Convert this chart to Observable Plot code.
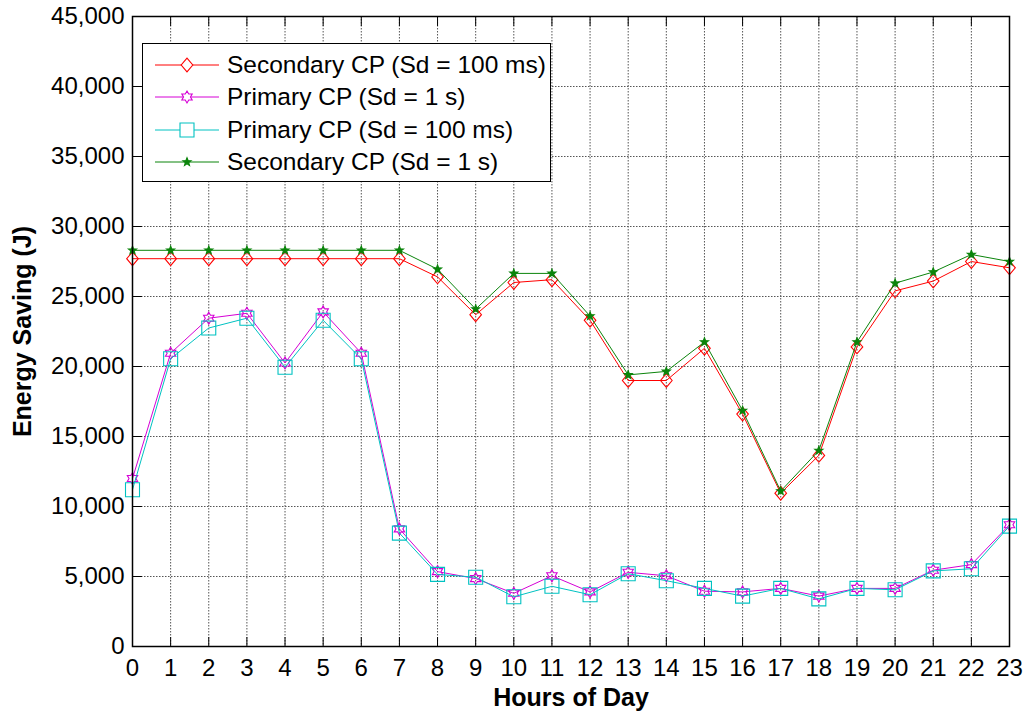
<!DOCTYPE html>
<html>
<head>
<meta charset="utf-8">
<script src="https://cdn.jsdelivr.net/npm/d3@7"></script>
<script src="https://cdn.jsdelivr.net/npm/@observablehq/plot@0.6"></script>
<style>
  body { margin: 0; background: #fff; }
  #wrap { position: relative; width: 1027px; height: 712px; font-family: "Liberation Sans", Arial, sans-serif; }
  #legend { position: absolute; left: 142px; top: 43px; width: 407px; height: 137px;
            border: 1px solid #000; background: #fff; }
  .row { position: absolute; left: 0; height: 32px; display: flex; align-items: center; white-space: nowrap; }
  .row svg { display: block; }
  .row span { font-size: 24.5px; color: #000; line-height: 32px; }
</style>
</head>
<body>
<div id="wrap"><div id="legend"></div></div>
<script>
// Hours of the day and tick values
const hours = [0, 1, 2, 3, 4, 5, 6, 7, 8, 9, 10, 11, 12, 13, 14, 15, 16, 17, 18, 19, 20, 21, 22, 23];
const yTicks = [0, 5000, 10000, 15000, 20000, 25000, 30000, 35000, 40000, 45000];

// Energy saving (J) per hour for each configuration
const secondary100ms = [27700, 27700, 27700, 27700, 27700, 27700, 27700, 27700, 26400, 23700, 26000, 26200,
                        23300, 19000, 19000, 21300, 16600, 10950, 13650, 21400, 25400, 26100, 27500, 27050];
const primary1s      = [12000, 20950, 23450, 23800, 20250, 23900, 20950, 8400, 5350, 4850, 3800, 5050,
                        3900, 5300, 5050, 3950, 3900, 4150, 3600, 4150, 4150, 5450, 5850, 8700];
const primary100ms   = [11200, 20550, 22750, 23450, 19950, 23300, 20550, 8100, 5150, 4950, 3550, 4300,
                        3700, 5200, 4700, 4150, 3600, 4150, 3400, 4150, 4050, 5400, 5550, 8600];
const secondary1s    = [28300, 28300, 28300, 28300, 28300, 28300, 28300, 28300, 26950, 24100, 26650, 26650,
                        23600, 19400, 19650, 21750, 16850, 11100, 14000, 21750, 25950, 26750, 28000, 27500];

const seriesNames = ["Secondary CP (Sd = 100 ms)", "Primary CP (Sd = 1 s)", "Primary CP (Sd = 100 ms)", "Secondary CP (Sd = 1 s)"];

// Marker shapes (size is r²·π as passed by the dot mark)
const rad = (size) => Math.sqrt(size / Math.PI);
const diamondSym = { draw(ctx, size) { const r = rad(size);
  ctx.moveTo(0, -r * 1.18); ctx.lineTo(r, 0); ctx.lineTo(0, r * 1.18); ctx.lineTo(-r, 0); ctx.closePath(); } };
const squareSym = { draw(ctx, size) { const r = rad(size); ctx.rect(-r, -r, 2 * r, 2 * r); } };
function starSym(points, innerRatio) {
  return { draw(ctx, size) {
    const r = rad(size);
    for (let i = 0; i < points * 2; i++) {
      const a = -Math.PI / 2 + i * Math.PI / points;
      const rr = i % 2 ? r * innerRatio : r;
      const px = rr * Math.cos(a), py = rr * Math.sin(a);
      i ? ctx.lineTo(px, py) : ctx.moveTo(px, py);
    }
    ctx.closePath();
  } };
}
const hexagramSym = starSym(6, 0.577);
const pentagramSym = starSym(5, 0.42);

// Short straight stroke used for the inward tick marks
const tickShape = { draw(ctx, l) { ctx.moveTo(0, 0); ctx.lineTo(0, -l); } };

const series = [
  { name: seriesNames[0], values: secondary100ms, color: "#ff0000", symbol: diamondSym, r: 5.8, fill: "none" },
  { name: seriesNames[1], values: primary1s,      color: "#d600d6", symbol: hexagramSym, r: 6,   fill: "none" },
  { name: seriesNames[2], values: primary100ms,   color: "#00c2c2", symbol: squareSym,   r: 7,   fill: "none" },
  { name: seriesNames[3], values: secondary1s,    color: "#0b840b", symbol: pentagramSym, r: 4.3, fill: "#0b840b" }
];

const marks = [
  Plot.gridX(hours, { stroke: "#555", strokeOpacity: 1, strokeDasharray: "1.5,1.5" }),
  Plot.gridY(yTicks, { stroke: "#555", strokeOpacity: 1, strokeDasharray: "1.5,1.5" })
];
for (const s of series) {
  const rows = hours.map((h, i) => ({ hour: h, value: s.values[i] }));
  marks.push(Plot.line(rows, { x: "hour", y: "value", stroke: s.color, strokeWidth: 1 }));
  marks.push(Plot.dot(rows, { x: "hour", y: "value", symbol: () => s.symbol, r: s.r,
                              stroke: s.color, strokeWidth: 1.1, fill: s.fill }));
}
const tickStyle = { length: 9, anchor: "start", shape: tickShape, stroke: "#000", strokeWidth: 1 };
marks.push(
  // inward ticks on all four sides
  Plot.vector(hours, { x: (d) => d, frameAnchor: "bottom", rotate: 0, ...tickStyle }),
  Plot.vector(hours, { x: (d) => d, frameAnchor: "top", rotate: 180, ...tickStyle }),
  Plot.vector(yTicks, { y: (d) => d, frameAnchor: "left", rotate: 90, ...tickStyle }),
  Plot.vector(yTicks, { y: (d) => d, frameAnchor: "right", rotate: -90, ...tickStyle }),
  // tick labels
  Plot.axisX(hours, { anchor: "bottom", tickSize: 0, tickPadding: 12, label: null, fill: "#000",
                      tickFormat: (d) => String(d) }),
  Plot.axisY(yTicks, { anchor: "left", tickSize: 0, tickPadding: 8, label: null, fill: "#000",
                       tickFormat: d3.format(",") }),
  // axis titles
  Plot.text(["Hours of Day"], { frameAnchor: "bottom", dy: 51, lineAnchor: "middle", textAnchor: "middle",
                                fontWeight: "bold", fontSize: 25, fill: "#000" }),
  Plot.text(["Energy Saving (J)"], { frameAnchor: "left", dx: -110, rotate: -90, lineAnchor: "middle",
                                     textAnchor: "middle", fontWeight: "bold", fontSize: 25, fill: "#000" }),
  Plot.frame({ stroke: "#000", strokeWidth: 1.5 })
);

const chart = Plot.plot({
  width: 1027,
  height: 712,
  marginLeft: 132,
  marginRight: 18,
  marginTop: 16,
  marginBottom: 66,
  x: { type: "linear", domain: [0, 23] },
  y: { type: "linear", domain: [0, 45000] },
  style: { fontFamily: '"Liberation Sans", Arial, sans-serif', fontSize: "24px", background: "#fff", color: "#000", overflow: "visible" },
  marks
});
document.getElementById("wrap").prepend(chart);

// Legend box with line + marker keys
const legend = document.getElementById("legend");
series.forEach((s, i) => {
  const row = document.createElement("div");
  row.className = "row";
  row.style.top = (5 + i * 32.3) + "px";
  const p = d3.path();
  s.symbol.draw(p, s.r * s.r * Math.PI);
  row.innerHTML =
    `<svg width="84" height="32"><line x1="12" x2="76" y1="16" y2="16" stroke="${s.color}" stroke-width="1"/>` +
    `<path d="${p.toString()}" transform="translate(44,16)" stroke="${s.color}" stroke-width="1.1" fill="${s.fill === "none" ? "#fff" : s.fill}"/></svg>` +
    `<span>${s.name}</span>`;
  legend.appendChild(row);
});
</script>
</body>
</html>
